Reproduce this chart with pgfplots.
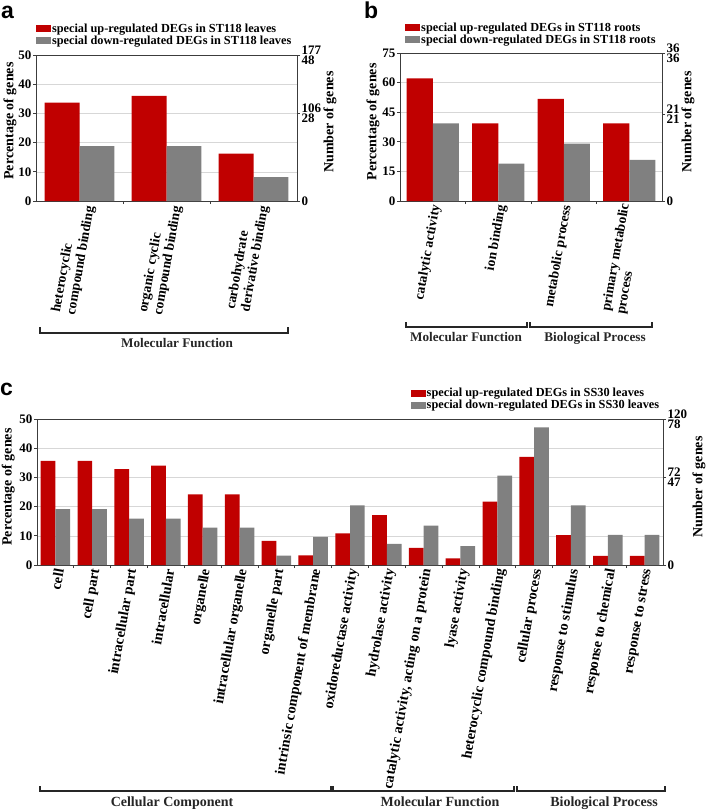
\documentclass[border=0pt]{standalone}
\usepackage{pgfplots}
\pgfplotsset{compat=1.18}
\usepackage{fontspec}
\setmainfont{Liberation Serif}
\newfontfamily\arialfont{Liberation Sans}
\definecolor{barred}{RGB}{192,0,0}
\definecolor{bargray}{RGB}{128,128,128}
\definecolor{gridc}{RGB}{215,215,215}
\definecolor{axc}{RGB}{60,60,60}

\pgfplotsset{
  base/.style={
    scale only axis, anchor=south west, ymin=0,
    axis line style={axc, line width=0.9pt},
    tick style={axc, line width=0.7pt},
    major tick length=3pt,
    tick align=outside,
    /pgf/number format/assume math mode=true,
    ticklabel style={font=\fontsize{13}{10}\selectfont\bfseries, inner sep=1.5pt},
    label style={font=\fontsize{14}{14}\selectfont\bfseries},
  },
  main/.style={base,
    ybar, bar width=0.4,
    ytick pos=left, xtick pos=bottom,
    ymajorgrids, grid style={gridc, line width=0.6pt},
    xticklabels={},
    catfont/.initial={\fontsize{13.7}{15}\selectfont\bfseries},
    extra x tick style={major tick length=0pt,
      tick label style={font=\pgfkeysvalueof{/pgfplots/catfont}, xshift=4pt, yshift=-3pt, rotate=80, anchor=east, align=left, inner sep=1pt}},
    legend style={draw=none, fill=none, inner sep=0pt, outer sep=0pt,
      font=\fontsize{12.3}{13}\selectfont\bfseries, legend cell align=left,
      nodes={inner sep=1pt},
      /tikz/every even column/.append style={column sep=4pt}},
    legend image code/.code={\fill[##1] (0pt,-3.5pt) rectangle (15pt,3.5pt);},
  },
  right/.style={base,
    axis x line=none, axis y line*=right,
    yticklabel style={align=left},
  },
}

\begin{document}
\begin{tikzpicture}
% ---------------- panel a ----------------
\begin{axis}[main, at={(36pt,-201pt)}, width=261pt, height=146pt,
  xmin=-0.5, xmax=2.5, ymax=50, ytick={0,10,...,50},
  xtick={0.5,1.5},
  extra x ticks={0,1,2},
  extra x tick labels={{heterocyclic\\compound binding},{organic cyclic\\compound binding},{carbohydrate\\derivative binding}},
  ylabel={Percentage of genes},
  ylabel style={at={(axis description cs:-0.0996,0.548)}, rotate=0, anchor=center},
  legend style={at={(axis description cs:0,1.222)}, anchor=north west},
]
\addplot[fill=barred, draw=none, bar shift=-0.2] coordinates {(0,33.7) (1,36) (2,16.2)};
\addplot[fill=bargray, draw=none, bar shift=0.2] coordinates {(0,18.8) (1,18.8) (2,8.2)};
\legend{special up-regulated DEGs in ST118 leaves, special down-regulated DEGs in ST118 leaves}
\end{axis}
\begin{axis}[right, at={(36pt,-201pt)}, width=261pt, height=146pt,
  xmin=-0.5, xmax=2.5, ymax=50,
  ytick={0,30,50}, yticklabels={0,{106\\28},{177\\48}},
  ylabel={Number of genes},
  ylabel style={at={(axis description cs:1.126,0.541)}, rotate=0, anchor=center},
]
\addplot[draw=none] coordinates {(0,0)};
\end{axis}
% ---------------- panel b ----------------
\begin{axis}[main, at={(400pt,-201pt)}, width=262pt, height=148pt,
  xmin=-0.5, xmax=3.5, ymax=75, ytick={0,15,...,75},
  xtick={0.5,1.5,2.5},
  extra x ticks={0,1,2,3},
  extra x tick labels={{catalytic activity},{ion binding},{metabolic process},{primary metabolic\\process}},
  ylabel={Percentage of genes},
  ylabel style={at={(axis description cs:-0.103,0.534)}, rotate=0, anchor=center},
  legend style={at={(axis description cs:0.02,1.212)}, anchor=north west},
]
\addplot[fill=barred, draw=none, bar shift=-0.2] coordinates {(0,62.1) (1,39.4) (2,51.8) (3,39.4)};
\addplot[fill=bargray, draw=none, bar shift=0.2] coordinates {(0,39.4) (1,19) (2,29.1) (3,20.8)};
\legend{special up-regulated DEGs in ST118 roots, special down-regulated DEGs in ST118 roots}
\end{axis}
\begin{axis}[right, at={(400pt,-201pt)}, width=262pt, height=148pt,
  xmin=-0.5, xmax=3.5, ymax=75,
  ytick={0,43.75,75}, yticklabels={0,{21\\21},{36\\36}},
  ylabel={Number of genes},
  ylabel style={at={(axis description cs:1.099,0.534)}, rotate=0, anchor=center},
]
\addplot[draw=none] coordinates {(0,0)};
\end{axis}
% ---------------- panel c ----------------
\begin{axis}[main, at={(37pt,-565pt)}, width=626pt, height=146pt,
  catfont={\fontsize{14.4}{15}\selectfont\bfseries},
  xmin=-0.5, xmax=16.5, ymax=50, ytick={0,10,...,50},
  xtick={0.5,1.5,...,15.5},
  extra x ticks={0,1,...,16},
  extra x tick labels={cell,cell part,intracellular part,intracellular,organelle,intracellular organelle,organelle part,intrinsic component of membrane,oxidoreductase activity,hydrolase activity,{catalytic activity, acting on a protein},lyase activity,heterocyclic compound binding,cellular process,response to stimulus,response to chemical,response to stress},
  ylabel={Percentage of genes},
  ylabel style={at={(axis description cs:-0.046,0.534)}, rotate=0, anchor=center},
  legend style={at={(axis description cs:0.597,1.219)}, anchor=north west},
]
\addplot[fill=barred, draw=none, bar shift=-0.2] coordinates {(0,35.7) (1,35.7) (2,32.8) (3,34) (4,24.2) (5,24.2) (6,8.3) (7,3.3) (8,10.8) (9,17.1) (10,5.9) (11,2.3) (12,21.7) (13,37) (14,10.2) (15,3.1) (16,3.1)};
\addplot[fill=bargray, draw=none, bar shift=0.2] coordinates {(0,19.1) (1,19.1) (2,15.9) (3,15.9) (4,12.8) (5,12.8) (6,3.2) (7,9.6) (8,20.4) (9,7.2) (10,13.5) (11,6.5) (12,30.6) (13,47.1) (14,20.4) (15,10.3) (16,10.3)};
\legend{special up-regulated DEGs in SS30 leaves, special down-regulated DEGs in SS30 leaves}
\end{axis}
\begin{axis}[right, at={(37pt,-565pt)}, width=626pt, height=146pt,
  xmin=-0.5, xmax=16.5, ymax=50,
  ytick={0,30,50}, yticklabels={0,{72\\47},{120\\78}},
  ylabel={Number of genes},
  ylabel style={at={(axis description cs:1.0575,0.534)}, rotate=0, anchor=center},
]
\addplot[draw=none] coordinates {(0,0)};
\end{axis}
% ---------------- brackets ----------------
\begin{scope}[line width=1.3pt, black!85]
\draw (40pt,-327pt) -- (40pt,-333pt) -- (288pt,-333pt) -- (288pt,-327pt);
\draw (406pt,-322pt) -- (406pt,-327pt) -- (527pt,-327pt) -- (527pt,-322pt);
\draw (530pt,-322pt) -- (530pt,-327pt) -- (652pt,-327pt) -- (652pt,-322pt);
\draw (40pt,-786pt) -- (40pt,-791pt) -- (331pt,-791pt) -- (331pt,-786pt);
\draw (333pt,-786pt) -- (333pt,-791pt) -- (514pt,-791pt) -- (514pt,-786pt);
\draw (517pt,-786pt) -- (517pt,-791pt) -- (665pt,-791pt) -- (665pt,-786pt);
\end{scope}
\begin{scope}[every node/.style={anchor=base, inner sep=0pt, text=black!85, font=\fontsize{13.2}{13}\selectfont\bfseries}]
\node at (177pt,-347pt) {Molecular Function};
\node at (466pt,-341pt) {Molecular Function};
\node at (595pt,-341pt) {Biological Process};
\node[font=\fontsize{14}{14}\selectfont\bfseries] at (172pt,-806pt) {Cellular Component};
\node[font=\fontsize{14}{14}\selectfont\bfseries] at (440pt,-806pt) {Molecular Function};
\node[font=\fontsize{14}{14}\selectfont\bfseries] at (604pt,-806pt) {Biological Process};
\end{scope}
% panel letters
\begin{scope}[every node/.style={anchor=base west, inner sep=0pt, font=\arialfont\bfseries\fontsize{23}{23}\selectfont}]
\node at (1pt,-18pt) {a};
\node at (364pt,-18pt) {b};
\node at (0pt,-395pt) {c};
\end{scope}
\pgfresetboundingbox
\path[use as bounding box] (0pt,0pt) rectangle (709pt,-811pt);
\end{tikzpicture}
\end{document}
